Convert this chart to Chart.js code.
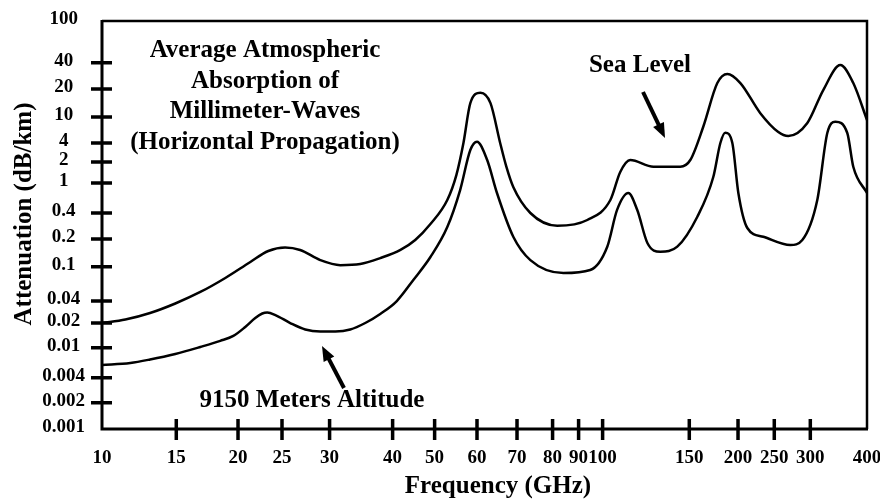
<!DOCTYPE html>
<html>
<head>
<meta charset="utf-8">
<script src="https://cdn.jsdelivr.net/npm/chart.js@4/dist/chart.umd.min.js"></script>
<style>
  html, body { margin: 0; padding: 0; background: #fff; }
</style>
</head>
<body>
<canvas id="chart" width="880" height="501"></canvas>
<script>
// Tick values and their labels
const xTicks = [10, 15, 20, 25, 30, 40, 50, 60, 70, 80, 90, 100, 150, 200, 250, 300, 400];
const xTickLabels = ["10", "15", "20", "25", "30", "40", "50", "60", "70", "80", "90", "100", "150", "200", "250", "300", "400"];
const yTicks = [0.001, 0.002, 0.004, 0.01, 0.02, 0.04, 0.1, 0.2, 0.4, 1, 2, 4, 10, 20, 40, 100];
const yTickLabels = ["0.001", "0.002", "0.004", "0.01", "0.02", "0.04", "0.1", "0.2", "0.4", "1", "2", "4", "10", "20", "40", "100"];

// Sea level curve (GHz, dB/km)
const seaFreq = [10, 11.36, 13, 14.92, 16.78, 18.85, 21.29, 23.32, 25.3, 26.8, 28.95, 31.5, 34.5, 37.8, 41.7, 45.1, 48.9, 52.8, 54.9, 56.6, 58.3, 60.8, 63.2, 65.6, 67.2, 69, 73.6, 81.7, 93.5, 103.7, 108.6, 113.8, 126.8, 143.8, 150.9, 162.9, 177, 187.8, 202.9, 229.4, 254.7, 268.4, 295.5, 320.4, 349.3, 373.1, 400];
const seaLevel = [0.02, 0.0223, 0.0274, 0.037, 0.0509, 0.074, 0.1125, 0.148, 0.1617, 0.152, 0.118, 0.104, 0.107, 0.124, 0.152, 0.195, 0.298, 0.595, 1.3, 4, 14.1, 18.25, 14.1, 4, 1.7, 0.885, 0.4, 0.285, 0.332, 0.595, 1.44, 2.15, 1.71, 1.71, 2.15, 7.1, 23.4, 29.7, 23.4, 11.0, 5.96, 5.12, 8.09, 19.5, 37.6, 23.4, 9.0];

// 9150 m altitude curve (GHz, dB/km)
const altFreq = [10, 11.67, 13, 14.92, 16.78, 18.41, 19.57, 20.75, 21.83, 22.62, 23.2, 24.17, 25.8, 27.33, 28.95, 30.8, 32.97, 35.3, 37.8, 40.9, 44.65, 48.9, 52.8, 55.8, 58.3, 60, 62.4, 64.8, 69, 73.6, 84, 94.7, 102.2, 107, 112.8, 117.6, 123.3, 131, 141.8, 157.3, 172.9, 180.2, 185.5, 193.4, 200.4, 211.8, 233.7, 271.1, 288.1, 310.8, 327, 340.6, 361.9, 373.1, 400];
const altitude = [0.0059, 0.00627, 0.00697, 0.00825, 0.0102, 0.0121, 0.0139, 0.0179, 0.0234, 0.027, 0.0278, 0.0257, 0.02, 0.01667, 0.01576, 0.01576, 0.01667, 0.02, 0.0266, 0.04, 0.0701, 0.1275, 0.275, 0.807, 3.1, 4.19, 2.15, 0.737, 0.2125, 0.118, 0.0845, 0.0916, 0.165, 0.44, 0.737, 0.438, 0.181, 0.1455, 0.165, 0.3625, 1.23, 4, 5.75, 4, 0.737, 0.268, 0.2125, 0.172, 0.195, 0.595, 5.69, 8.47, 5.69, 1.71, 0.737];

// The original axes are hand drawn: each tick sits at this fraction of the axis length
const xTickPos = [0, 0.0971, 0.1778, 0.2353, 0.2975, 0.3799, 0.4348, 0.4902, 0.5425, 0.589, 0.623, 0.6544, 0.7677, 0.8314, 0.8788, 0.9259, 1];
const yTickPos = [0, 0.0645, 0.1257, 0.1993, 0.2598, 0.3137, 0.3978, 0.4657, 0.5294, 0.6029, 0.6544, 0.701, 0.7647, 0.8333, 0.8978, 1];

// log scale, piecewise between the ticks
function makeWarpedLog(id, ticks, pos) {
    const logs = ticks.map(Math.log10);
    const n = logs.length - 1;
    function interp(v, from, to) {
        let i = 1;
        while (i < n && v > from[i]) i++;
        return to[i - 1] + (v - from[i - 1]) / (from[i] - from[i - 1]) * (to[i] - to[i - 1]);
    }
    class WarpedLog extends Chart.LogarithmicScale {
        getPixelForValue(value) {
            if (value === undefined || value === 0) value = this.min;
            if (value === null || isNaN(value)) return NaN;
            return this.getPixelForDecimal(interp(Math.log10(value), logs, pos));
        }
        getValueForPixel(pixel) {
            return Math.pow(10, interp(this.getDecimalForPixel(pixel), pos, logs));
        }
    }
    WarpedLog.id = id;
    return WarpedLog;
}
Chart.register(makeWarpedLog('warpX', xTicks, xTickPos), makeWarpedLog('warpY', yTicks, yTickPos));

function arrow(ctx, x1, y1, x2, y2) {
    const a = Math.atan2(y2 - y1, x2 - x1);
    const c = Math.cos(a), s = Math.sin(a);
    const head = 15, half = 6;
    ctx.lineWidth = 4;
    ctx.beginPath();
    ctx.moveTo(x1, y1);
    ctx.lineTo(x2 - head * 0.8 * c, y2 - head * 0.8 * s);
    ctx.stroke();
    ctx.beginPath();
    ctx.moveTo(x2, y2);
    ctx.lineTo(x2 - head * c + half * s, y2 - head * s - half * c);
    ctx.lineTo(x2 - head * c - half * s, y2 - head * s + half * c);
    ctx.closePath();
    ctx.fill();
}

// frame, crossing tick marks, annotations and axis titles
const decorations = {
    id: 'decorations',
    afterDraw(chart) {
        const { ctx, chartArea: a, scales: { x, y } } = chart;
        ctx.save();
        ctx.strokeStyle = '#000';
        ctx.fillStyle = '#000';

        ctx.lineWidth = 2.5;
        ctx.beginPath();
        ctx.moveTo(a.left, a.top);
        ctx.lineTo(a.right, a.top);
        ctx.lineTo(a.right, a.bottom);
        ctx.stroke();
        ctx.lineWidth = 3;
        ctx.beginPath();
        ctx.moveTo(a.left, a.top - 1);
        ctx.lineTo(a.left, a.bottom);
        ctx.lineTo(a.right + 1, a.bottom);
        ctx.stroke();

        ctx.lineWidth = 3.5;
        ctx.beginPath();
        y.ticks.forEach(t => {
            if (t.value === y.min || t.value === y.max) return;
            const py = y.getPixelForValue(t.value);
            ctx.moveTo(a.left - 11, py);
            ctx.lineTo(a.left + 10, py);
        });
        x.ticks.forEach(t => {
            if (t.value === x.min || t.value === x.max) return;
            const px = x.getPixelForValue(t.value);
            ctx.moveTo(px, a.bottom - 10);
            ctx.lineTo(px, a.bottom + 11);
        });
        ctx.stroke();

        ctx.font = 'bold 25px "Liberation Serif"';
        ctx.textAlign = 'center';
        ctx.textBaseline = 'alphabetic';
        ['Average Atmospheric', 'Absorption of', 'Millimeter-Waves', '(Horizontal Propagation)']
            .forEach((s, i) => ctx.fillText(s, 265, 57 + i * 30.5));
        ctx.fillText('Sea Level', 640, 72);
        ctx.fillText('9150 Meters Altitude', 312, 407);
        arrow(ctx, 643, 92, 665, 138);
        arrow(ctx, 344, 388, 322, 346);

        ctx.fillText('Frequency (GHz)', 498, 493);
        ctx.translate(31, 214);
        ctx.rotate(-Math.PI / 2);
        ctx.fillText('Attenuation (dB/km)', 0, 0);
        ctx.restore();
    }
};

Chart.defaults.font.family = '"Liberation Serif", "Times New Roman", serif';
Chart.defaults.font.size = 19;
Chart.defaults.font.weight = 'bold';
Chart.defaults.color = '#000';

const lineStyle = {
    borderColor: '#000',
    borderWidth: 2.5,
    pointRadius: 0,
    fill: false,
    cubicInterpolationMode: 'monotone'
};

new Chart(document.getElementById('chart').getContext('2d'), {
    type: 'line',
    data: {
        datasets: [
            Object.assign({ label: 'Sea Level', data: seaFreq.map((f, i) => ({ x: f, y: seaLevel[i] })) }, lineStyle),
            Object.assign({ label: '9150 Meters Altitude', data: altFreq.map((f, i) => ({ x: f, y: altitude[i] })) }, lineStyle)
        ]
    },
    options: {
        responsive: false,
        animation: false,
        devicePixelRatio: 1,
        layout: { padding: { top: 21, right: 13, left: 0, bottom: 0 } },
        plugins: {
            legend: { display: false },
            tooltip: { enabled: false }
        },
        scales: {
            x: {
                type: 'warpX',
                min: 10,
                max: 400,
                afterBuildTicks: s => { s.ticks = xTicks.map(v => ({ value: v })); },
                afterFit: s => { s.height = 72; s.paddingLeft = 0; s.paddingRight = 0; },
                grid: { display: false, drawTicks: false },
                border: { display: false },
                ticks: { autoSkip: false, maxRotation: 0, padding: 18, callback: (v, i) => xTickLabels[i] }
            },
            y: {
                type: 'warpY',
                min: 0.001,
                max: 100,
                afterBuildTicks: s => { s.ticks = yTicks.map(v => ({ value: v })); },
                afterFit: s => { s.width = 102; s.paddingTop = 0; s.paddingBottom = 0; },
                grid: { display: false, drawTicks: false },
                border: { display: false },
                ticks: { autoSkip: false, crossAlign: 'center', padding: 17, labelOffset: -2, callback: (v, i) => yTickLabels[i] }
            }
        }
    },
    plugins: [decorations]
});
</script>
</body>
</html>
